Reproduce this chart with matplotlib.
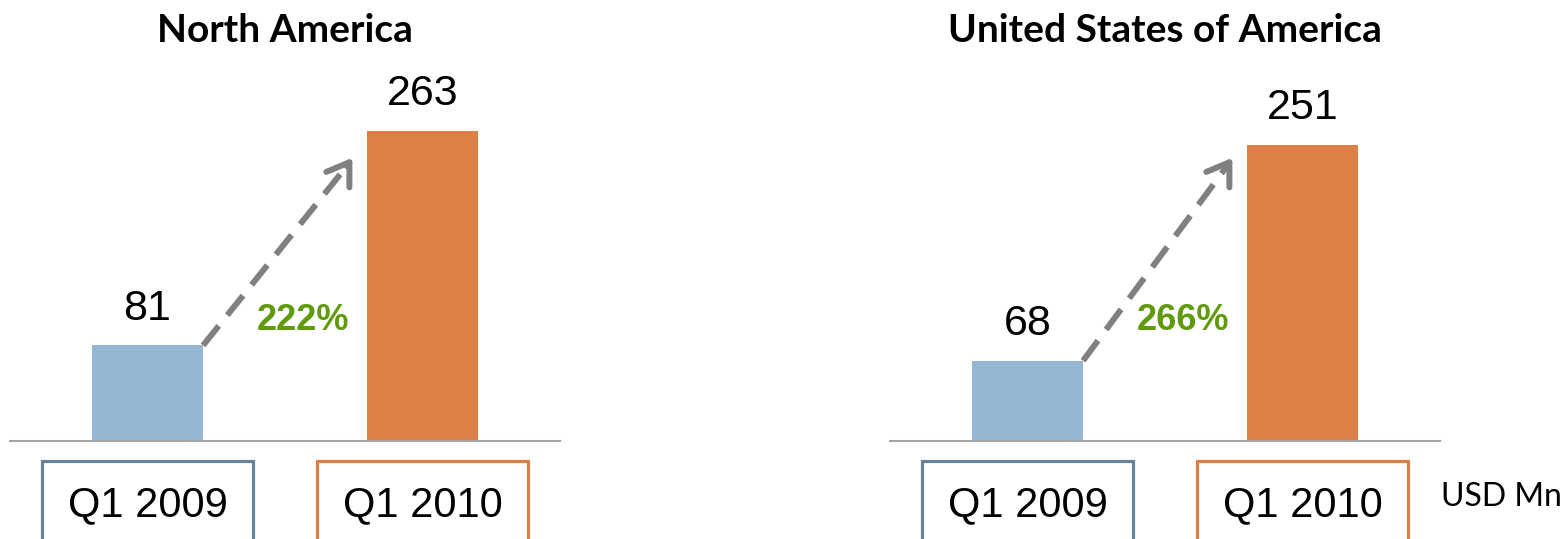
import numpy as np
import matplotlib.pyplot as plt
from matplotlib.patches import Rectangle

# data
periods = ["Q1 2009", "Q1 2010"]
regions = ["North America", "United States of America"]
north_america = [81, 263]
usa = [68, 251]
growth_labels = ["222%", "266%"]
unit_label = "USD Mn"

BAR_COLORS = ["#95b7d3", "#dd8047"]
BOX_COLORS = ["#6a8296", "#dd8047"]
GREEN = "#5f9b0a"
GRAY = "#808080"

plt.rcParams["font.family"] = ["Liberation Sans", "DejaVu Sans"]

fig = plt.figure(figsize=(15.64, 5.39), dpi=100)

panel_lefts = [10 / 1564, 890 / 1564]
panel_width = 550 / 1564
ax_bottom = 98 / 539
ax_height = 354 / 539

for i, (region, vals) in enumerate(zip(regions, [north_america, usa])):
    ax = fig.add_axes([panel_lefts[i], ax_bottom, panel_width, ax_height])
    x = np.arange(len(periods))
    ax.bar(x, vals, width=0.404, color=BAR_COLORS, zorder=2)
    ax.set_xlim(-0.5, 1.5)
    ax.set_ylim(0, 300)
    for s in ["top", "right", "left"]:
        ax.spines[s].set_visible(False)
    ax.spines["bottom"].set_color("#a6a6a6")
    ax.spines["bottom"].set_linewidth(1.5)
    ax.set_xticks([])
    ax.set_yticks([])

    # value labels
    for xi, v in zip(x, vals):
        ax.annotate(str(v), (xi, v), xytext=(0, 12), textcoords="offset points",
                    ha="center", va="bottom", fontsize=31)

    # period boxes under the axis
    for xi, lab, bc in zip(x, periods, BOX_COLORS):
        ax.add_patch(Rectangle((xi - 0.383, -100), 0.766, 83, fill=False,
                               edgecolor=bc, linewidth=2.3, clip_on=False))
        ax.annotate(lab, (xi, 0), xytext=(0, -46), textcoords="offset points",
                    ha="center", va="center", fontsize=30, annotation_clip=False)

    # dashed growth arrow
    start = (0.202, vals[0])
    tip = (0.745, 240)
    ax.plot([start[0], tip[0] - 0.01], [start[1], tip[1] - 4], color=GRAY,
            lw=4.3, linestyle=(0, (4.2, 2.3)), solid_capstyle="butt", zorder=3)
    ax.annotate("", xy=tip, xytext=(tip[0] - 0.02, tip[1] - 7),
                arrowprops=dict(arrowstyle="->,head_length=0.6,head_width=0.4",
                                color=GRAY, lw=4.3, mutation_scale=25,
                                shrinkA=0, shrinkB=0))
    ax.text(0.565, 102, growth_labels[i], color=GREEN, fontsize=26,
            fontweight="bold", ha="center", va="center")

    fig.text(panel_lefts[i] + panel_width / 2, 1 - 30 / 539, region,
             ha="center", va="center", fontsize=28, fontweight="bold",
             family=["Lato", "DejaVu Sans"])

fig.text(1441 / 1564, 1 - 497 / 539, unit_label, ha="left", va="center",
         fontsize=23, family=["Lato", "DejaVu Sans"])

fig.savefig("out.png", dpi=100)
